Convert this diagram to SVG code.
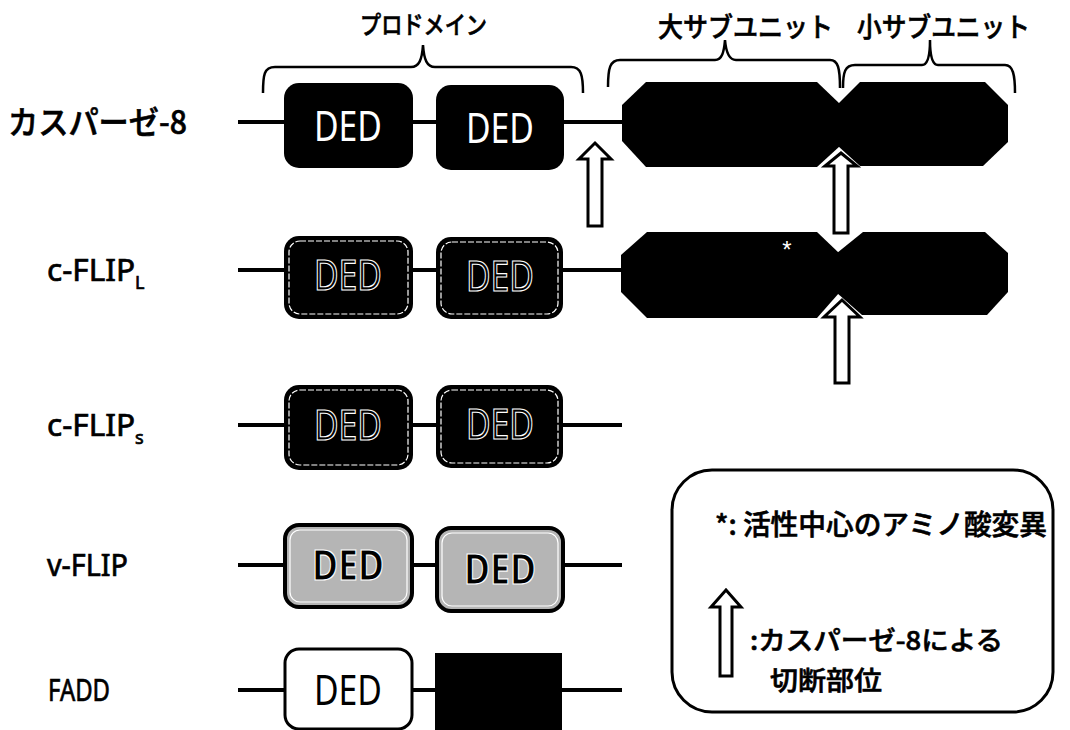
<svg xmlns="http://www.w3.org/2000/svg" width="1070" height="730" viewBox="0 0 1070 730">
<style>
.jp{font-family:"Noto Sans CJK JP","Noto Sans",sans-serif;font-weight:500;fill:#000;stroke:#000;stroke-width:0.6}
.lab{font-family:"Noto Sans","Open Sans",sans-serif;font-weight:normal;fill:#000;stroke:#000;stroke-width:0.7}
.ded{font-family:"Noto Sans","Open Sans",sans-serif;font-size:42px;text-anchor:middle}
.line{stroke:#000;stroke-width:4;fill:none}
.brace{stroke:#000;stroke-width:2.5;fill:none}
.arrow{fill:#fff;stroke:#000;stroke-width:3;stroke-linejoin:miter}
.blk{fill:#000}
.inner{fill:none;stroke:#fff;stroke-width:1.2;stroke-dasharray:6 2}
.inner-solid{fill:none;stroke:#fff;stroke-width:1.2}
.gray{fill:#b5b5b5;stroke:#000;stroke-width:4}
</style>
<rect width="1070" height="730" fill="#fff"/>

<g id="headers">
<text class="jp" x="360" y="34" font-size="25" textLength="127" lengthAdjust="spacingAndGlyphs">プロドメイン</text>
<text class="jp" x="658" y="37" font-size="27" textLength="175" lengthAdjust="spacingAndGlyphs">大サブユニット</text>
<text class="jp" x="857" y="37" font-size="27" textLength="173" lengthAdjust="spacingAndGlyphs">小サブユニット</text>
<path class="brace" d="M263,93 C263,75 264,67 275,67 L411,67 C419,67 422,60 423,45 C424,60 427,67 435,67 L571,67 C581,67 583,75 583,93"/>
<path class="brace" d="M608,87 C608,68 610,60 620,60 L715,60 C722,60 724,52 725,40 C726,52 729,60 736,60 L830,60 C838,60 840,68 840,88"/>
<path class="brace" d="M843,88 C843,72 845,65 855,65 L922,65 C928,65 930,55 930,40 C930,55 932,65 938,65 L1005,65 C1013,65 1015,75 1015,93"/>
</g>

<g id="connectors">
<line class="line" x1="238" y1="122" x2="624" y2="122"/>
<line class="line" x1="238" y1="270" x2="624" y2="270"/>
<line class="line" x1="238" y1="425" x2="622" y2="425"/>
<line class="line" x1="238" y1="565" x2="622" y2="565"/>
<line class="line" x1="238" y1="690" x2="622" y2="690"/>
</g>

<g id="caspase8">
<text class="jp" x="8" y="134" font-size="32" textLength="179" lengthAdjust="spacingAndGlyphs">カスパーゼ-8</text>
<rect class="blk" x="284" y="83" width="129" height="85" rx="15"/>
<text class="ded" x="348" y="141" fill="#fff" textLength="68" lengthAdjust="spacingAndGlyphs">DED</text>
<rect class="blk" x="436" y="85" width="128" height="85" rx="15"/>
<text class="ded" x="500" y="143" fill="#fff" textLength="68" lengthAdjust="spacingAndGlyphs">DED</text>
<polygon class="blk" points="622,105 646,82 817,82 840,104 840,146 817,167 646,167 622,141"/>
<polygon class="blk" points="838,104 860,82 985,82 1008,105 1008,142 983,166 860,166 838,146"/>
</g>

<g id="cflipL">
<text class="lab" x="47" y="281" font-size="30"><tspan textLength="88" lengthAdjust="spacingAndGlyphs">c-FLIP</tspan><tspan font-size="18" dy="8">L</tspan></text>
<rect class="blk" x="284" y="236" width="129" height="83" rx="15"/>
<rect class="inner" x="289" y="241" width="119" height="73" rx="11"/>
<text class="ded" x="348" y="290" fill="#000" stroke="#fff" stroke-width="1.2" textLength="68" lengthAdjust="spacingAndGlyphs">DED</text>
<rect class="blk" x="436" y="237" width="127" height="82" rx="15"/>
<rect class="inner" x="441" y="242" width="117" height="72" rx="11"/>
<text class="ded" x="500" y="291" fill="#000" stroke="#fff" stroke-width="1.2" textLength="68" lengthAdjust="spacingAndGlyphs">DED</text>
<polygon class="blk" points="621,255 647,232 817,232 839,253 839,293 817,318 647,318 621,292"/>
<polygon class="blk" points="837,253 863,232 985,232 1008,253 1008,292 987,315 862,315 837,293"/>
<text x="787" y="258" font-family="Liberation Sans, sans-serif" font-size="24" fill="#fff" text-anchor="middle">*</text>
</g>

<g id="cflipS">
<text class="lab" x="47" y="436" font-size="30"><tspan textLength="88" lengthAdjust="spacingAndGlyphs">c-FLIP</tspan><tspan font-size="18" dy="8">s</tspan></text>
<rect class="blk" x="284" y="385" width="129" height="85" rx="15"/>
<rect class="inner" x="289" y="390" width="119" height="75" rx="11"/>
<text class="ded" x="348" y="440" fill="#000" stroke="#fff" stroke-width="1.2" textLength="68" lengthAdjust="spacingAndGlyphs">DED</text>
<rect class="blk" x="436" y="385" width="127" height="83" rx="15"/>
<rect class="inner" x="441" y="390" width="117" height="73" rx="11"/>
<text class="ded" x="500" y="439" fill="#000" stroke="#fff" stroke-width="1.2" textLength="68" lengthAdjust="spacingAndGlyphs">DED</text>
</g>

<g id="vflip">
<text class="lab" x="47" y="576" font-size="30" textLength="81" lengthAdjust="spacingAndGlyphs">v-FLIP</text>
<rect class="gray" x="285" y="525" width="127" height="82" rx="14"/>
<rect class="inner-solid" x="290" y="530" width="117" height="72" rx="10"/>
<text class="ded" x="348" y="580" font-weight="bold" fill="#000" stroke="#fff" stroke-width="1.2" textLength="72" lengthAdjust="spacingAndGlyphs">DED</text>
<rect class="gray" x="437" y="528" width="126" height="83" rx="14"/>
<rect class="inner-solid" x="442" y="533" width="116" height="73" rx="10"/>
<text class="ded" x="500" y="584" font-weight="bold" fill="#000" stroke="#fff" stroke-width="1.2" textLength="72" lengthAdjust="spacingAndGlyphs">DED</text>
</g>

<g id="fadd">
<text class="lab" x="48" y="701" font-size="30" textLength="62" lengthAdjust="spacingAndGlyphs">FADD</text>
<rect x="285" y="649" width="127" height="80" rx="14" fill="#fff" stroke="#000" stroke-width="3"/>
<text class="ded" x="348" y="705" fill="#000" textLength="68" lengthAdjust="spacingAndGlyphs">DED</text>
<rect class="blk" x="435" y="653" width="127" height="77"/>
</g>

<g id="cleavage-arrows">
<polygon class="arrow" points="595,143 611,159 602,159 602,226 588,226 588,159 579,159"/>
<polygon class="arrow" points="841,153 857,166 848,166 848,233 834,233 834,166 825,166"/>
<polygon class="arrow" points="842,300 860,317 849,317 849,383 835,383 835,317 824,317"/>
</g>

<g id="legend">
<rect x="672" y="470" width="381" height="242" rx="40" fill="#fff" stroke="#000" stroke-width="3"/>
<text class="jp" x="715" y="535" font-size="28" textLength="332" lengthAdjust="spacingAndGlyphs">*: 活性中心のアミノ酸変異</text>
<polygon class="arrow" points="726,590 741,607 732,607 732,676 720,676 720,607 711,607"/>
<text class="jp" x="750" y="650" font-size="26" textLength="253" lengthAdjust="spacingAndGlyphs">:カスパーゼ-8による</text>
<text class="jp" x="770" y="690" font-size="26" textLength="112" lengthAdjust="spacingAndGlyphs">切断部位</text>
</g>
</svg>
